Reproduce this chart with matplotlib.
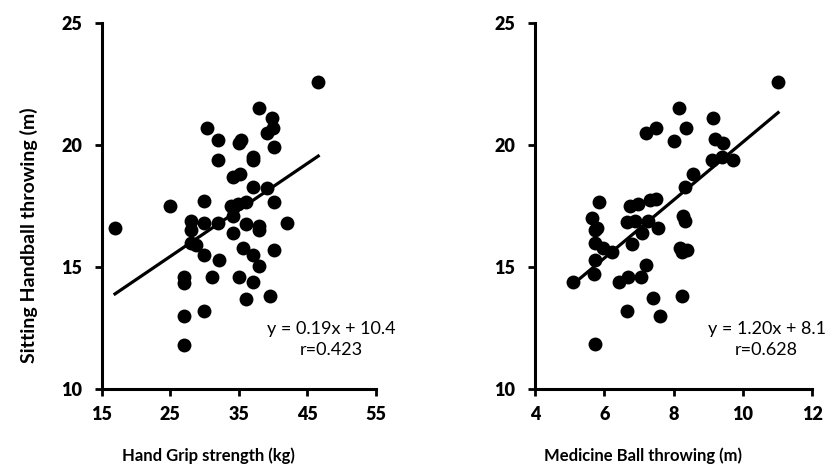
import numpy as np
import matplotlib
matplotlib.use('Agg')
import matplotlib.pyplot as plt

plt.rcParams['font.family'] = ['Lato', 'DejaVu Sans']

# Sitting handball throwing (m) vs hand grip strength (kg)
grip_kg = [46.6, 38.0, 39.9, 40.0, 39.1, 30.4, 32.0, 35.3, 35.0, 40.1,
           32.0, 37.0, 37.0, 34.1, 35.1, 37.0, 39.1, 25.0, 29.9, 33.8,
           34.9, 36.0, 40.1, 16.9, 28.0, 28.0, 29.9, 32.0, 34.1, 34.1,
           36.0, 38.0, 38.0, 42.1, 34.1, 28.8, 28.0, 29.9, 32.1, 35.6,
           37.0, 38.0, 40.1, 27.0, 27.0, 31.1, 35.0, 37.0, 36.0, 39.5,
           27.0, 29.9, 27.0]
grip_throw = [22.6, 21.5, 21.1, 20.7, 20.5, 20.7, 20.2, 20.2, 20.1, 19.9,
              19.4, 19.5, 19.4, 18.7, 18.8, 18.3, 18.25, 17.5, 17.7, 17.5,
              17.6, 17.65, 17.65, 16.6, 16.9, 16.5, 16.8, 16.8, 17.1, 17.4,
              16.75, 16.7, 16.5, 16.8, 16.4, 15.9, 16.0, 15.5, 15.3, 15.8,
              15.5, 15.05, 15.7, 14.6, 14.35, 14.6, 14.6, 14.4, 13.7, 13.8,
              13.0, 13.2, 11.8]

# Sitting handball throwing (m) vs medicine ball throwing (m)
ball_m = [11.02, 8.16, 9.14, 7.5, 7.2, 8.36, 8.0, 9.2, 9.43, 9.1,
          9.4, 9.72, 8.57, 8.34, 5.85, 6.75, 6.98, 7.32, 7.5, 5.65,
          5.8, 5.73, 6.66, 6.9, 7.27, 7.1, 7.55, 8.28, 8.33, 5.73,
          5.97, 6.23, 6.8, 8.2, 8.25, 8.4, 5.73, 7.2, 5.1, 5.7,
          6.43, 6.7, 7.06, 7.4, 7.6, 8.25, 6.66, 5.73]
ball_throw = [22.6, 21.5, 21.1, 20.7, 20.5, 20.7, 20.15, 20.25, 20.1, 19.4,
              19.5, 19.4, 18.8, 18.3, 17.65, 17.5, 17.6, 17.75, 17.8, 17.0,
              16.6, 16.5, 16.85, 16.9, 16.9, 16.4, 16.6, 17.1, 16.9, 16.0,
              15.8, 15.6, 15.95, 15.8, 15.6, 15.7, 15.3, 15.1, 14.4, 14.7,
              14.4, 14.6, 14.6, 13.75, 13.0, 13.8, 13.2, 11.85]

grip_ticks = [15, 25, 35, 45, 55]
ball_ticks = [4, 6, 8, 10, 12]
y_ticks = [10, 15, 20, 25]

grip_label = 'y = 0.19x + 10.4\nr=0.423'
ball_label = 'y = 1.20x + 8.1\nr=0.628'


def panel(ax, xs, ys, xticks, xlabel, eq_text):
    ax.scatter(xs, ys, s=100, c='black', linewidths=0, zorder=3)

    # least squares trend line over the data range
    slope, intercept = np.polyfit(xs, ys, 1)
    lx = np.array([min(xs), max(xs)])
    ax.plot(lx, slope * lx + intercept, color='black', lw=2.3, zorder=2)

    ax.set_xlim(xticks[0], xticks[-1])
    ax.set_ylim(y_ticks[0], y_ticks[-1])
    ax.set_xticks(xticks, [str(t) for t in xticks], fontweight='heavy')
    ax.set_yticks(y_ticks, [str(t) for t in y_ticks], fontweight='heavy')

    ax.spines['top'].set_visible(False)
    ax.spines['right'].set_visible(False)
    for side in ['left', 'bottom']:
        ax.spines[side].set_linewidth(2.2)
    ax.tick_params(width=2, length=5, labelsize=13)
    ax.tick_params(axis='y', pad=9)
    ax.tick_params(axis='x', pad=7)

    ax.set_xlabel(xlabel, fontsize=12, fontweight='bold')
    ax.xaxis.set_label_coords(0.39, -0.16)
    ax.text(0.836, 0.135, eq_text, transform=ax.transAxes, ha='center',
            va='center', multialignment='center', fontsize=13, linespacing=1.35)


fig = plt.figure(figsize=(8.32, 4.70), dpi=100)
ax1 = fig.add_axes([0.1226, 0.1723, 0.329, 0.7787])
ax2 = fig.add_axes([0.643, 0.1723, 0.333, 0.7787])

panel(ax1, grip_kg, grip_throw, grip_ticks, 'Hand Grip strength (kg)', grip_label)
panel(ax2, ball_m, ball_throw, ball_ticks, 'Medicine Ball throwing (m)', ball_label)

ax1.set_ylabel('Sitting Handball throwing (m)', fontsize=14, fontweight='bold')
ax1.yaxis.set_label_coords(-0.235, 0.42)

fig.savefig('out.png', dpi=100)
